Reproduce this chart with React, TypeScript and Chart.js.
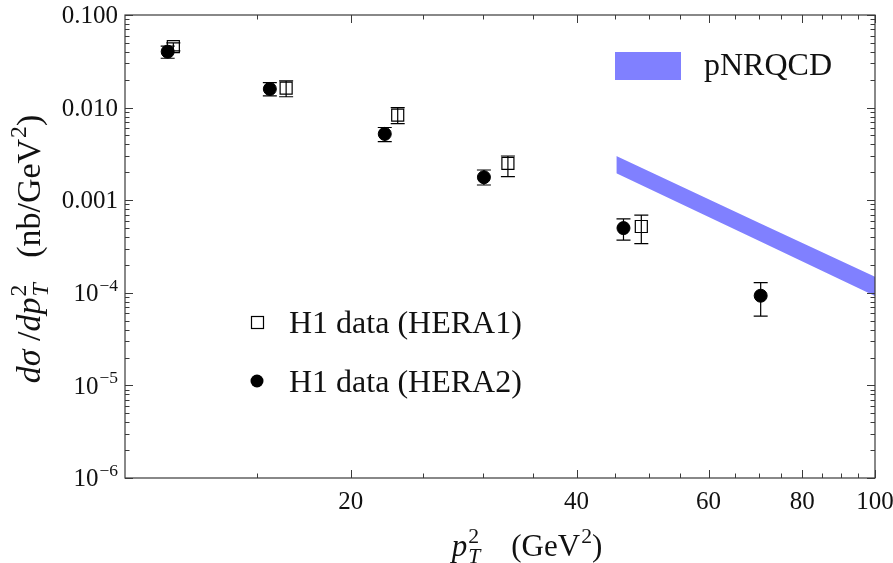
import { useEffect, useRef } from "react";
import { Chart, registerables } from "chart.js";

Chart.register(...registerables);

// H1 data (HERA1) – open squares
const hera1X = [11.6, 16.4, 23.1, 32.4, 48.8];
const hera1Y = [0.0455, 0.0162, 0.0083, 0.0025, 0.00052];
const hera1Hi = [0.05, 0.0194, 0.01, 0.003, 0.00069];
const hera1Lo = [0.041, 0.0131, 0.0067, 0.0018, 0.00034];

// H1 data (HERA2) – filled circles
const hera2X = [11.4, 15.6, 22.2, 30.1, 46.2, 70.4];
const hera2Y = [0.0402, 0.0159, 0.0052, 0.00177, 0.0005, 0.000093];
const hera2Hi = [0.0462, 0.0186, 0.0061, 0.00212, 0.00063, 0.000129];
const hera2Lo = [0.0341, 0.0134, 0.0043, 0.00146, 0.00037, 0.000056];

// pNRQCD band
const bandX = [45.2, 70, 100];
const bandUpper = [0.003, 0.00057, 0.000149];
const bandLower = [0.00195, 0.000365, 0.0000923];

// ticks
const xMajorTicks = [20, 40, 60, 80, 100];
const xMajorLabels = ["20", "40", "60", "80", "100"];
const xMinorTicks = [15, 25, 30, 35, 45, 50, 55, 65, 70, 75, 85, 90, 95];
const yMajorTicks = [0.1, 0.01, 0.001, 1e-4, 1e-5, 1e-6];
const yMajorLabels = ["0.100", "0.010", "0.001", "10|−4", "10|−5", "10|−6"];
const yMinorMult = [2, 3, 4, 5, 6, 7, 8, 9];

const SERIF = "'Liberation Serif', 'Times New Roman', serif";
const FRAME = "#3a3a3a";

type Seg = { t: string; it?: boolean; sup?: string; sub?: string; subIt?: boolean };

function font(size: number, it?: boolean) {
  return `${it ? "italic " : ""}${size}px ${SERIF}`;
}

function measureRich(ctx: CanvasRenderingContext2D, segs: Seg[], fs: number) {
  let w = 0;
  for (const s of segs) {
    ctx.font = font(fs, s.it);
    w += ctx.measureText(s.t).width;
    let extra = 0;
    if (s.sup) {
      ctx.font = font(fs * 0.7, false);
      extra = Math.max(extra, ctx.measureText(s.sup).width);
    }
    if (s.sub) {
      ctx.font = font(fs * 0.7, s.subIt);
      extra = Math.max(extra, ctx.measureText(s.sub).width);
    }
    w += extra ? extra + 1 : 0;
  }
  return w;
}

function drawRich(ctx: CanvasRenderingContext2D, segs: Seg[], fs: number, x: number, yMid: number, align: "left" | "center" | "right") {
  const w = measureRich(ctx, segs, fs);
  let cx = align === "left" ? x : align === "center" ? x - w / 2 : x - w;
  ctx.textAlign = "left";
  ctx.textBaseline = "alphabetic";
  const base = yMid + fs * 0.33;
  for (const s of segs) {
    ctx.font = font(fs, s.it);
    ctx.fillText(s.t, cx, base);
    cx += ctx.measureText(s.t).width;
    let extra = 0;
    if (s.sup) {
      ctx.font = font(fs * 0.7, false);
      ctx.fillText(s.sup, cx + 1, base - fs * 0.42);
      extra = Math.max(extra, ctx.measureText(s.sup).width);
    }
    if (s.sub) {
      ctx.font = font(fs * 0.7, s.subIt);
      ctx.fillText(s.sub, cx + 1, base + fs * 0.22);
      extra = Math.max(extra, ctx.measureText(s.sub).width);
    }
    cx += extra ? extra + 1 : 0;
  }
}

const framePlugin = {
  id: "framePlugin",
  afterDatasetsDraw(chart: any) {
    const ctx: CanvasRenderingContext2D = chart.ctx;
    const { left, right, top, bottom } = chart.chartArea;
    const xs = chart.scales.x;
    const ys = chart.scales.y;

    // error bars
    ctx.save();
    ctx.strokeStyle = "#000";
    ctx.lineWidth = 1.2;
    const bars = (X: number[], Hi: number[], Lo: number[]) => {
      X.forEach((xv, i) => {
        const px = xs.getPixelForValue(xv);
        const ph = ys.getPixelForValue(Hi[i]);
        const pl = ys.getPixelForValue(Lo[i]);
        ctx.beginPath();
        ctx.moveTo(px, ph);
        ctx.lineTo(px, pl);
        ctx.moveTo(px - 7, ph);
        ctx.lineTo(px + 7, ph);
        ctx.moveTo(px - 7, pl);
        ctx.lineTo(px + 7, pl);
        ctx.stroke();
      });
    };
    bars(hera1X, hera1Hi, hera1Lo);
    bars(hera2X, hera2Hi, hera2Lo);
    ctx.restore();

    // frame
    ctx.save();
    ctx.strokeStyle = FRAME;
    ctx.lineWidth = 1.2;
    ctx.strokeRect(left, top, right - left, bottom - top);
    ctx.lineWidth = 1;
    ctx.beginPath();
    const xt = (v: number, len: number) => {
      const p = Math.round(xs.getPixelForValue(v)) + 0.5;
      ctx.moveTo(p, bottom);
      ctx.lineTo(p, bottom - len);
      ctx.moveTo(p, top);
      ctx.lineTo(p, top + len);
    };
    xMajorTicks.forEach((v) => xt(v, 8));
    xMinorTicks.forEach((v) => xt(v, 4.5));
    const yt = (v: number, len: number) => {
      const p = Math.round(ys.getPixelForValue(v)) + 0.5;
      ctx.moveTo(left, p);
      ctx.lineTo(left + len, p);
      ctx.moveTo(right, p);
      ctx.lineTo(right - len, p);
    };
    yMajorTicks.forEach((v) => yt(v, 8));
    yMajorTicks.forEach((v) => {
      if (v >= 0.1) return;
      yMinorMult.forEach((m) => yt(v * m, 4.5));
    });
    ctx.stroke();
    ctx.restore();

    // tick labels
    ctx.save();
    ctx.fillStyle = "#111";
    const tfs = 25;
    xMajorTicks.forEach((v, i) => {
      const p = xs.getPixelForValue(v);
      drawRich(ctx, [{ t: xMajorLabels[i] }], tfs, p, bottom + 23, "center");
    });
    yMajorTicks.forEach((v, i) => {
      const p = ys.getPixelForValue(v);
      const parts = yMajorLabels[i].split("|");
      const segs: Seg[] = parts.length > 1 ? [{ t: parts[0], sup: parts[1] }] : [{ t: parts[0] }];
      drawRich(ctx, segs, tfs, left - 7, p, "right");
    });

    // axis titles
    drawRich(
      ctx,
      [
        { t: "p", it: true, sup: "2", sub: "T", subIt: true },
        { t: "    (GeV", sup: "2" },
        { t: ")" },
      ],
      31,
      527,
      546,
      "center"
    );
    ctx.save();
    ctx.translate(29, 249);
    ctx.rotate(-Math.PI / 2);
    drawRich(
      ctx,
      [
        { t: "dσ", it: true },
        { t: " /" },
        { t: "dp", it: true, sup: "2", sub: "T", subIt: true },
        { t: "   (nb/GeV", sup: "2" },
        { t: ")" },
      ],
      34,
      0,
      0,
      "center"
    );
    ctx.restore();

    // legends
    const lfs = 32;
    ctx.fillStyle = "#8080ff";
    ctx.fillRect(615, 52, 66, 28);
    ctx.fillStyle = "#111";
    drawRich(ctx, [{ t: "pNRQCD" }], lfs, 704, 64, "left");

    ctx.strokeStyle = "#000";
    ctx.lineWidth = 1.2;
    ctx.strokeRect(251.5, 316.5, 12, 12);
    ctx.fillStyle = "#000";
    ctx.beginPath();
    ctx.arc(257, 381, 6.5, 0, Math.PI * 2);
    ctx.fill();
    ctx.fillStyle = "#111";
    drawRich(ctx, [{ t: "H1 data (HERA1)" }], lfs, 289, 322, "left");
    drawRich(ctx, [{ t: "H1 data (HERA2)" }], lfs, 289, 381, "left");
    ctx.restore();
  },
};

export default function App() {
  const ref = useRef<HTMLCanvasElement | null>(null);
  useEffect(() => {
    if (!ref.current) return;
    const chart = new Chart(ref.current, {
      type: "scatter",
      data: {
        datasets: [
          {
            label: "pNRQCD upper",
            data: bandX.map((x, i) => ({ x, y: bandUpper[i] })),
            showLine: true,
            borderColor: "rgba(0,0,0,0)",
            borderWidth: 1,
            backgroundColor: "#8080ff",
            pointRadius: 0,
            fill: false,
          },
          {
            label: "pNRQCD lower",
            data: bandX.map((x, i) => ({ x, y: bandLower[i] })),
            showLine: true,
            borderColor: "rgba(0,0,0,0)",
            borderWidth: 1,
            backgroundColor: "#8080ff",
            pointRadius: 0,
            fill: "-1",
          },
          {
            label: "H1 data (HERA1)",
            data: hera1X.map((x, i) => ({ x, y: hera1Y[i] })),
            pointStyle: "rect",
            pointRadius: 8.5,
            borderColor: "#000",
            borderWidth: 1.2,
            backgroundColor: "rgba(0,0,0,0)",
          },
          {
            label: "H1 data (HERA2)",
            data: hera2X.map((x, i) => ({ x, y: hera2Y[i] })),
            pointStyle: "circle",
            pointRadius: 6.5,
            borderColor: "#000",
            borderWidth: 1,
            backgroundColor: "#000",
          },
        ],
      },
      options: {
        responsive: false,
        animation: false,
        events: [],
        layout: { padding: { top: 15, right: 18, left: 0, bottom: 0 } },
        plugins: { legend: { display: false }, tooltip: { enabled: false } },
        scales: {
          x: {
            type: "logarithmic",
            min: 10,
            max: 100,
            grid: { display: false },
            border: { display: false },
            ticks: { display: false },
            afterFit: (s: any) => {
              s.height = 85;
            },
          },
          y: {
            type: "logarithmic",
            min: 1e-6,
            max: 0.1,
            grid: { display: false },
            border: { display: false },
            ticks: { display: false },
            afterFit: (s: any) => {
              s.width = 125;
            },
          },
        },
      },
      plugins: [framePlugin],
    } as any);
    return () => chart.destroy();
  }, []);
  return (
    <div style={{ position: "absolute", left: 0, top: 0, width: 893, height: 563, background: "#fff" }}>
      <canvas ref={ref} width={893} height={563} style={{ display: "block", width: 893, height: 563 }} />
    </div>
  );
}
